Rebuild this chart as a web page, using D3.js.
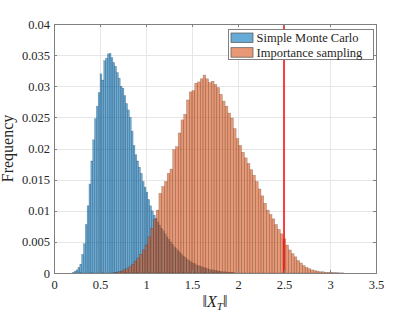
<!DOCTYPE html>
<html>
<head>
<meta charset="utf-8">
<script src="https://cdn.jsdelivr.net/npm/d3@7"></script>
<style>
  body { margin: 0; background: #fff; }
</style>
</head>
<body>
<div id="chart"></div>
<script>
// histogram bins (left edge + width) and normalized frequencies
const mcStart = 0.20, mcWidth = 0.02;
const mcFreq = [
  0.0001, 0.0003, 0.0005, 0.0009, 0.0014, 0.0030, 0.0047, 0.0078, 0.0108, 0.0143,
  0.0180, 0.0214, 0.0248, 0.0268, 0.0290, 0.0320, 0.0310, 0.0341, 0.0345, 0.0352,
  0.0353, 0.0346, 0.0338, 0.0332, 0.0322, 0.0313, 0.0300, 0.0297, 0.0285, 0.0272,
  0.0262, 0.0250, 0.0228, 0.0205, 0.0190, 0.0180, 0.0170, 0.0160, 0.0147, 0.0138,
  0.0130, 0.0118, 0.0108, 0.0100, 0.0093, 0.0088, 0.0082, 0.0077, 0.0072, 0.0068,
  0.0063, 0.0058, 0.0054, 0.0050, 0.0046, 0.0042, 0.0039, 0.0036, 0.0033, 0.0030,
  0.0027, 0.0025, 0.0022, 0.0020, 0.0018, 0.0016, 0.0015, 0.0013, 0.0012, 0.0011,
  0.0010, 0.0009, 0.0008, 0.0007, 0.0006, 0.0005, 0.0005, 0.0004, 0.0004, 0.0003,
  0.0003, 0.0002, 0.0002, 0.0002, 0.0001, 0.0001, 0.0001, 0.0001
];

const isStart = 0.66, isWidth = 0.03;
const isFreq = [
  0.0001, 0.0002, 0.0003, 0.0005, 0.0007, 0.0010, 0.0014, 0.0019, 0.0024, 0.0030,
  0.0037, 0.0045, 0.0058, 0.0072, 0.0086, 0.0101, 0.0128, 0.0139, 0.0147, 0.0160,
  0.0167, 0.0198, 0.0203, 0.0225, 0.0246, 0.0255, 0.0278, 0.0291, 0.0293, 0.0305,
  0.0307, 0.0312, 0.0318, 0.0312, 0.0306, 0.0308, 0.0303, 0.0298, 0.0287, 0.0276,
  0.0268, 0.0257, 0.0249, 0.0232, 0.0216, 0.0205, 0.0194, 0.0185, 0.0176, 0.0166,
  0.0157, 0.0147, 0.0135, 0.0124, 0.0112, 0.0101, 0.0094, 0.0087, 0.0078, 0.0070,
  0.0063, 0.0055, 0.0045, 0.0037, 0.0031, 0.0026, 0.0020, 0.0016, 0.0012, 0.0009,
  0.0007, 0.0005, 0.0004, 0.0003, 0.0002, 0.0002, 0.0001, 0.0001, 0.0001, 0.00005,
  0.00005, 0.00003, 0.00003
];

const threshold = 2.5;
const xTicks = [0, 0.5, 1, 1.5, 2, 2.5, 3, 3.5];
const yTicks = [0, 0.005, 0.01, 0.015, 0.02, 0.025, 0.03, 0.035, 0.04];
const seriesNames = ["Simple Monte Carlo", "Importance sampling"];
const seriesColors = ["#0072BD", "#D95319"];

const fontFamily = "'Liberation Serif', 'DejaVu Serif', serif";
const width = 415, height = 312;
const margin = { left: 54, right: 39, top: 24, bottom: 39 };

const svg = d3.select("#chart").append("svg")
    .attr("width", width)
    .attr("height", height)
    .attr("font-family", fontFamily);

const x = d3.scaleLinear().domain([0, 3.5]).range([margin.left, width - margin.right]);
const y = d3.scaleLinear().domain([0, 0.04]).range([height - margin.bottom, margin.top]);

// grid
svg.append("g")
    .selectAll("line")
    .data(xTicks.slice(1, -1))
    .enter().append("line")
    .attr("x1", d => Math.round(x(d)) + 0.5).attr("x2", d => Math.round(x(d)) + 0.5)
    .attr("y1", y(0.04)).attr("y2", y(0))
    .attr("stroke", "#e6e6e6");
svg.append("g")
    .selectAll("line")
    .data(yTicks.slice(1, -1))
    .enter().append("line")
    .attr("y1", d => Math.round(y(d)) + 0.5).attr("y2", d => Math.round(y(d)) + 0.5)
    .attr("x1", x(0)).attr("x2", x(3.5))
    .attr("stroke", "#e6e6e6");

// bars
function drawHist(freq, start, w, color) {
    svg.append("g")
        .selectAll("rect")
        .data(freq)
        .enter().append("rect")
        .attr("x", (d, i) => x(start + i * w))
        .attr("width", (d, i) => x(start + (i + 1) * w) - x(start + i * w))
        .attr("y", d => y(d))
        .attr("height", d => y(0) - y(d))
        .attr("fill", color)
        .attr("fill-opacity", 0.6)
        .attr("stroke", "#000")
        .attr("stroke-opacity", 0.3)
        .attr("stroke-width", 0.5);
}
drawHist(mcFreq, mcStart, mcWidth, seriesColors[0]);
drawHist(isFreq, isStart, isWidth, seriesColors[1]);

// threshold line
svg.append("line")
    .attr("x1", x(threshold)).attr("x2", x(threshold))
    .attr("y1", y(0.04)).attr("y2", y(0))
    .attr("stroke", "#ff0000")
    .attr("stroke-width", 1.5);

// axes box with inward ticks
const axisColor = "#808080";
const xAxisB = d3.axisBottom(x).tickValues(xTicks).tickSizeInner(-3).tickSizeOuter(0).tickFormat(d3.format("~g"));
const xAxisT = d3.axisTop(x).tickValues(xTicks).tickSizeInner(-3).tickSizeOuter(0).tickFormat("");
const yAxisL = d3.axisLeft(y).tickValues(yTicks).tickSizeInner(-3).tickSizeOuter(0).tickFormat(d3.format("~g"));
const yAxisR = d3.axisRight(y).tickValues(yTicks).tickSizeInner(-3).tickSizeOuter(0).tickFormat("");

function styleAxis(g) {
    g.attr("font-family", fontFamily).attr("font-size", 12.5);
    g.selectAll("path, line").attr("stroke", axisColor).attr("shape-rendering", "crispEdges");
    g.selectAll("text").attr("fill", "#262626");
}

svg.append("g").attr("transform", `translate(0,${y(0)})`).call(xAxisB).call(styleAxis)
    .selectAll("text").attr("dy", null).attr("y", 16);
svg.append("g").attr("transform", `translate(0,${y(0.04)})`).call(xAxisT).call(styleAxis);
svg.append("g").attr("transform", `translate(${x(0)},0)`).call(yAxisL).call(styleAxis)
    .selectAll("text").attr("x", -4);
svg.append("g").attr("transform", `translate(${x(3.5)},0)`).call(yAxisR).call(styleAxis);

// labels
svg.append("text")
    .attr("transform", `translate(13,${(y(0) + y(0.04)) / 2}) rotate(-90)`)
    .attr("text-anchor", "middle")
    .attr("font-size", 16)
    .attr("fill", "#262626")
    .text("Frequency");

const xl = svg.append("text")
    .attr("x", (x(0) + x(3.5)) / 2)
    .attr("y", 306.5)
    .attr("text-anchor", "middle")
    .attr("font-size", 16)
    .attr("fill", "#262626");
xl.append("tspan").text("\u2016");
xl.append("tspan").attr("font-style", "italic").text("X");
xl.append("tspan").attr("font-style", "italic").attr("font-size", 11).attr("dy", 3).text("T");
xl.append("tspan").attr("dy", -3).text("\u2016");

// legend
const legend = svg.append("g").attr("transform", "translate(228.5,29.5)");
legend.append("rect")
    .attr("width", 145).attr("height", 30)
    .attr("fill", "#fff")
    .attr("stroke", axisColor);
seriesNames.forEach((name, i) => {
    legend.append("rect")
        .attr("x", 2.5).attr("y", 3.5 + i * 14.7)
        .attr("width", 22).attr("height", 9.5)
        .attr("fill", seriesColors[i])
        .attr("fill-opacity", 0.6)
        .attr("stroke", "#555")
        .attr("stroke-width", 0.7);
    legend.append("text")
        .attr("x", 28).attr("y", 12.3 + i * 14.7)
        .attr("font-size", 12.5)
        .attr("fill", "#262626")
        .text(name);
});
</script>
</body>
</html>
